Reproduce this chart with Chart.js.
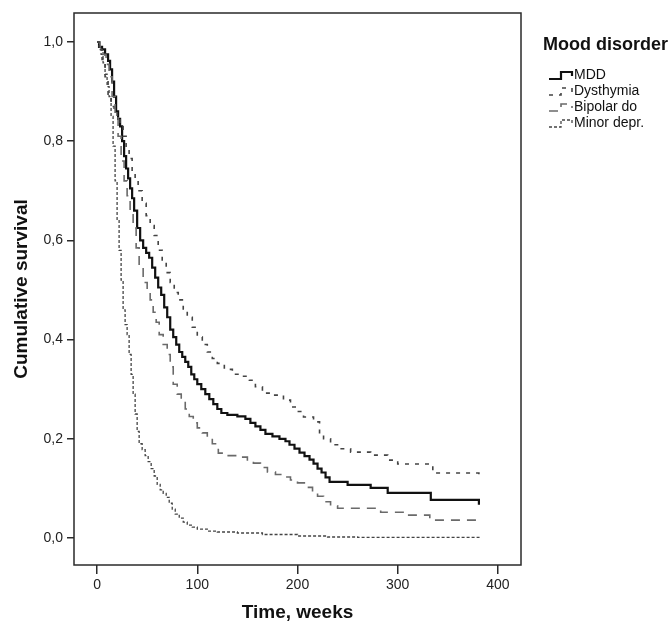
<!DOCTYPE html>
<html>
<head>
<meta charset="utf-8">
<script src="https://cdn.jsdelivr.net/npm/chart.js@4.4.1/dist/chart.umd.min.js"></script>
<style>
  html, body { margin: 0; padding: 0; background: #ffffff; }
  #wrap { width: 669px; height: 626px; }
</style>
</head>
<body>
<div id="wrap"><canvas id="c" width="669" height="626"></canvas></div>
<script>
// ---- data ----
const seriesNames = ['MDD', 'Dysthymia', 'Bipolar do', 'Minor depr.'];
const legendTitle = 'Mood disorder';
const xTitle = 'Time, weeks';
const yTitle = 'Cumulative survival';
const xTicks = [0, 100, 200, 300, 400];
const xTickLabels = ['0', '100', '200', '300', '400'];
const yTicks = [0, 0.2, 0.4, 0.6, 0.8, 1.0];
const yTickLabels = ['0,0', '0,2', '0,4', '0,6', '0,8', '1,0'];

const mddT = [0,2,5,8,11,13,15,17,19,21,23,25,27,29,31,33,35,37,40,43,46,49,52,55,58,61,64,67,70,73,76,79,82,85,88,91,94,97,100,104,108,112,116,120,124,130,140,148,153,158,163,168,175,182,188,192,197,202,207,212,216,220,224,228,232,250,273,290,333,381];
const mddS = [1.0,0.99,0.985,0.975,0.962,0.945,0.92,0.89,0.86,0.845,0.83,0.80,0.77,0.745,0.725,0.705,0.685,0.66,0.625,0.60,0.585,0.575,0.565,0.545,0.525,0.505,0.49,0.465,0.445,0.42,0.405,0.39,0.375,0.365,0.355,0.345,0.33,0.32,0.31,0.30,0.29,0.28,0.27,0.26,0.252,0.248,0.245,0.24,0.232,0.225,0.218,0.21,0.205,0.20,0.195,0.188,0.18,0.172,0.165,0.158,0.15,0.14,0.132,0.122,0.113,0.107,0.101,0.091,0.077,0.067];

const dysT = [0,2,5,8,11,14,17,20,23,26,29,32,35,38,41,45,49,53,57,61,65,69,73,77,81,86,90,95,100,105,110,115,120,127,135,145,152,158,165,175,186,193,200,206,216,222,226,233,242,253,273,290,300,335,381];
const dysS = [1.0,0.985,0.965,0.93,0.89,0.87,0.86,0.85,0.835,0.81,0.79,0.765,0.74,0.72,0.70,0.675,0.65,0.63,0.61,0.58,0.555,0.535,0.515,0.495,0.48,0.46,0.445,0.425,0.405,0.39,0.375,0.362,0.352,0.34,0.33,0.326,0.318,0.305,0.292,0.288,0.278,0.264,0.255,0.244,0.234,0.21,0.20,0.188,0.18,0.173,0.167,0.157,0.149,0.131,0.117];

const bipT = [0,3,6,9,12,15,18,21,24,27,30,33,36,39,42,46,50,53,56,59,62,66,70,73,76,80,84,88,92,96,100,105,110,115,121,130,140,150,156,163,170,178,186,193,200,208,215,220,226,233,240,283,309,332,381];
const bipS = [1.0,0.99,0.975,0.955,0.93,0.89,0.85,0.81,0.76,0.72,0.69,0.655,0.625,0.585,0.545,0.515,0.495,0.48,0.455,0.435,0.41,0.39,0.37,0.345,0.31,0.29,0.278,0.26,0.245,0.232,0.222,0.212,0.204,0.19,0.171,0.166,0.163,0.155,0.151,0.142,0.133,0.128,0.123,0.117,0.111,0.102,0.093,0.084,0.073,0.065,0.06,0.052,0.046,0.036,0.030];

const minT = [0,2,4,6,8,10,12,14,16,18,20,22,24,26,28,30,32,34,36,38,40,42,45,48,51,54,57,60,63,66,69,72,75,78,82,86,90,95,100,110,120,140,165,200,230,260,381];
const minS = [1.0,0.99,0.975,0.958,0.935,0.91,0.89,0.85,0.79,0.72,0.64,0.58,0.52,0.46,0.43,0.41,0.37,0.33,0.29,0.25,0.215,0.19,0.178,0.166,0.154,0.14,0.125,0.108,0.097,0.09,0.082,0.07,0.058,0.048,0.04,0.032,0.026,0.022,0.018,0.014,0.012,0.01,0.007,0.004,0.002,0.001,0.0];

// ---- styles ----
const FONT = "'Liberation Sans', Arial, sans-serif";
const styles = [
  { color: '#111111', width: 2.2, dash: [] },
  { color: '#444444', width: 1.6, dash: [4, 6] },
  { color: '#6a6a6a', width: 1.6, dash: [9, 7] },
  { color: '#444444', width: 1.3, dash: [3, 2] }
];
const allT = [mddT, dysT, bipT, minT];
const allS = [mddS, dysS, bipS, minS];

const datasets = seriesNames.map((name, k) => ({
  label: name,
  data: allT[k].map((t, i) => ({ x: t, y: allS[k][i] })),
  borderColor: styles[k].color,
  borderWidth: styles[k].width,
  borderDash: styles[k].dash,
  stepped: 'before',
  pointRadius: 0,
  fill: false
}));
datasets.reverse(); // MDD on top

const framePlugin = {
  id: 'frame',
  afterDraw(chart) {
    const { ctx, chartArea: a } = chart;
    ctx.save();
    ctx.strokeStyle = '#2a2a2a';
    ctx.lineWidth = 1.5;
    ctx.strokeRect(a.left, a.top, a.right - a.left, a.bottom - a.top);
    ctx.restore();
  }
};

const legendPlugin = {
  id: 'customLegend',
  afterDraw(chart) {
    const ctx = chart.ctx;
    ctx.save();
    ctx.fillStyle = '#111';
    ctx.font = "bold 18px " + FONT;
    ctx.textBaseline = 'middle';
    ctx.textAlign = 'left';
    ctx.fillText(legendTitle, 543, 45);
    const rowY = [75, 91, 107, 123];
    ctx.font = "14px " + FONT;
    seriesNames.forEach((name, k) => {
      const y = rowY[k];
      const s = styles[k];
      ctx.strokeStyle = s.color;
      ctx.lineWidth = s.width;
      ctx.setLineDash(s.dash);
      ctx.beginPath();
      ctx.moveTo(549, y + 4);
      ctx.lineTo(561, y + 4);
      ctx.lineTo(561, y - 3);
      ctx.lineTo(572, y - 3);
      ctx.lineTo(572, y + 1);
      ctx.stroke();
      ctx.setLineDash([]);
      ctx.fillStyle = '#111';
      ctx.fillText(name, 574, y);
    });
    ctx.restore();
  }
};

new Chart(document.getElementById('c'), {
  type: 'line',
  data: { datasets },
  options: {
    responsive: false,
    animation: false,
    devicePixelRatio: 1,
    layout: { padding: { top: 13, right: 148, left: 0, bottom: 0 } },
    plugins: { legend: { display: false }, tooltip: { enabled: false } },
    scales: {
      x: {
        type: 'linear',
        min: -23,
        max: 423,
        afterBuildTicks: (axis) => { axis.ticks = xTicks.map(v => ({ value: v })); },
        afterFit: (s) => { s.height = 61; },
        ticks: {
          font: { family: FONT, size: 14 },
          color: '#222',
          padding: 3,
          maxRotation: 0,
          callback: (v) => xTickLabels[xTicks.indexOf(v)]
        },
        grid: { drawOnChartArea: false, drawTicks: true, tickLength: 9, color: '#2a2a2a', lineWidth: 1.5 },
        border: { display: false },
        title: { display: true, text: xTitle, font: { family: FONT, size: 19, weight: 'bold' }, color: '#111', padding: { top: 4, bottom: 2 } }
      },
      y: {
        type: 'linear',
        min: -0.0545,
        max: 1.0585,
        afterBuildTicks: (axis) => { axis.ticks = yTicks.map(v => ({ value: v })); },
        afterFit: (s) => { s.width = 74; },
        ticks: {
          font: { family: FONT, size: 14 },
          color: '#222',
          padding: 4,
          callback: (v) => { const i = yTicks.findIndex(t => Math.abs(t - v) < 1e-9); return yTickLabels[i]; }
        },
        grid: { drawOnChartArea: false, drawTicks: true, tickLength: 7, color: '#2a2a2a', lineWidth: 1.5 },
        border: { display: false },
        title: { display: true, text: yTitle, font: { family: FONT, size: 19, weight: 'bold' }, color: '#111', padding: { top: 10, bottom: 4 } }
      }
    }
  },
  plugins: [framePlugin, legendPlugin]
});
</script>
</body>
</html>
